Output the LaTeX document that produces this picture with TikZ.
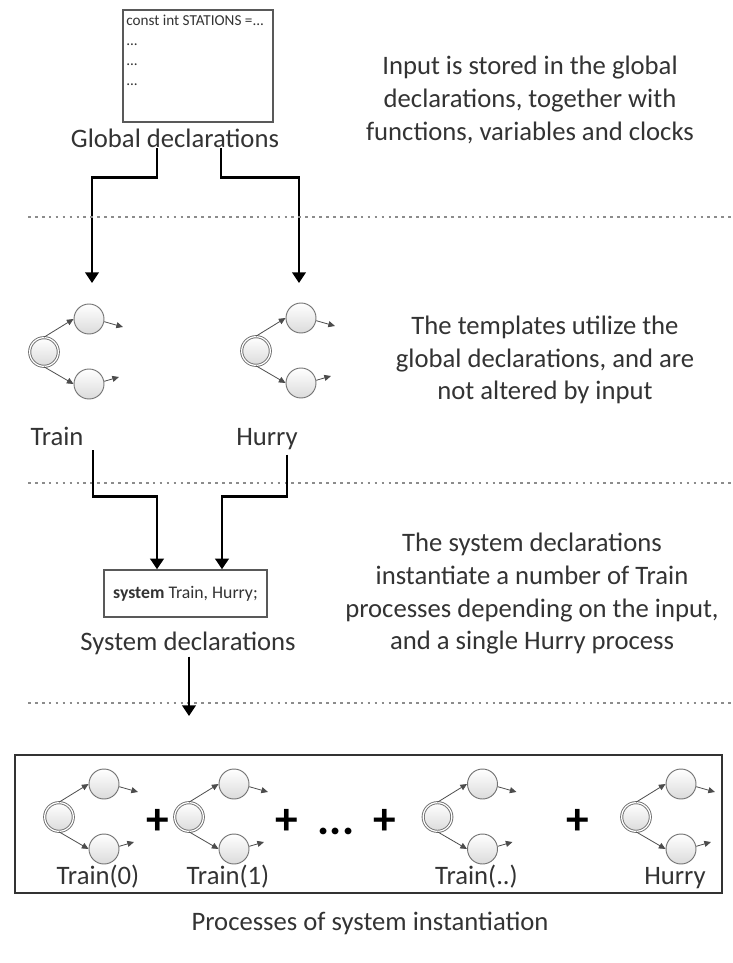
\documentclass[tikz,border=0pt]{standalone}
\usepackage{fontspec}
\setmainfont{Carlito}
\usetikzlibrary{arrows.meta,calc}

\tikzset{
  every node/.style={inner sep=0pt, text=black!80},
  body/.style={font=\fontsize{20}{24.5}\selectfont},
  note/.style={body, align=center},
  codefont/.style={font=\fontsize{11.4}{15}\selectfont},
  box/.style={draw=black!65, line width=1pt, fill=white},
  flow/.style={draw=black, line width=2.2pt, -{Triangle[length=8pt,width=10pt]}},
  sep/.style={draw=black!45, line width=1.1pt, dash pattern=on 2pt off 3.2pt},
  loc/.style={circle, draw=black!55, line width=0.7pt, minimum size=22.5pt,
              top color=white, bottom color=black!14},
  initloc/.style={loc, minimum size=21.5pt, double=white, double distance=0.9pt},
  trans/.style={draw=black!70, line width=0.6pt, -{Triangle[length=5pt,width=4.5pt]}},
  plus/.style={font=\fontsize{34}{34}\bfseries\selectfont, text=black},
  % a small template: initial location with two successors
  ta/.pic={
    \node[initloc] (-i) at (0,0) {};
    \node[loc] (-u) at (45,-33) {};
    \node[loc] (-d) at (45,32) {};
    \coordinate (-uo) at (79,-25);
    \coordinate (-do) at (75,25);
    \draw[trans] (-i.north) -- (-u.west);
    \draw[trans] (-i.south) -- (-d.west);
    \draw[trans] (-u.-10) -- (-uo);
    \draw[trans] (-d.10) -- (-do);
  }
}

\begin{document}
\begin{tikzpicture}[x=0.75pt,y=-0.75pt]
\useasboundingbox (0,0) rectangle (732,963);

% global declarations
\node[box, minimum width=112.5pt, minimum height=84pt] (gbox) at (198,66) {};
\node[codefont, align=left, anchor=north west] (gcode) at (126,15)
  {const int STATIONS =...\\...\\...\\...};
\node[body, anchor=base] (glabel) at (175,147) {Global declarations};

\coordinate (trainIn) at (92,283);
\coordinate (hurryIn) at (299,283);
\draw[flow] ($(glabel.south)+(-18,1)$) -- ++(0,29) -| (trainIn);
\draw[flow] ($(glabel.south)+(46,1)$) -- ++(0,29) -| (hurryIn);

% separators
\draw[sep] (28,217) -- (731,217);
\draw[sep] (28,483) -- (731,483);
\draw[sep] (28,703) -- (731,703);

% templates
\pic (tr) at (44,352) {ta};
\pic (hu) at (256,351) {ta};
\node[body, anchor=base] (trlabel) at (57,445) {Train};
\node[body, anchor=base] (hulabel) at (267,445) {Hurry};

% system declarations
\node[box, minimum width=122.25pt, minimum height=35.25pt] (sys) at (185.5,593.5)
  {\fontsize{13.3}{16}\selectfont\textbf{system} Train, Hurry;};
\draw[flow] ($(trlabel.south)+(36,5)$) |- ($(sys.north)+(-28.5,-73)$) -- ($(sys.north)+(-28.5,0)$);
\draw[flow] ($(hulabel.south)+(20,5)$) |- ($(sys.north)+(36.5,-73)$) -- ($(sys.north)+(36.5,0)$);
\node[body, anchor=base] (slabel) at (188,650) {System declarations};
\coordinate (procIn) at (189,716);
\draw[flow] ($(slabel.south)+(1,2)$) -- (procIn);

% instantiated processes
\node[draw=black!80, line width=1.2pt, minimum width=530.25pt, minimum height=103.5pt] (procs) at (368.5,824) {};
\pic (p0) at (59,817) {ta};
\pic (p1) at (189,817) {ta};
\pic (pn) at (437.5,817) {ta};
\pic (ph) at (636,817) {ta};
\node[body, anchor=base] (p0label) at (98,884) {Train(0)};
\node[body, anchor=base] (p1label) at (228,884) {Train(1)};
\node[body, anchor=base] (pnlabel) at (476.5,884) {Train(..)};
\node[body, anchor=base] (phlabel) at (675,884) {Hurry};
\node[plus] (plusA) at (158,822) {+};
\node[plus] (plusB) at (287,822) {+};
\node[plus] (dots) at (336,831) {...};
\node[plus] (plusC) at (385,822) {+};
\node[plus] (plusD) at (578,822) {+};
\node[body, anchor=base] (cap) at (370,930) {Processes of system instantiation};

% explanations
\node[note] (noteA) at (530,100) {Input is stored in the global\\declarations, together with\\functions, variables and clocks};
\node[note] (noteB) at (545,360) {The templates utilize the\\global declarations, and are\\not altered by input};
\node[note] (noteC) at (532,594) {The system declarations\\instantiate a number of Train\\processes depending on the input,\\and a single Hurry process};
\end{tikzpicture}
\end{document}
